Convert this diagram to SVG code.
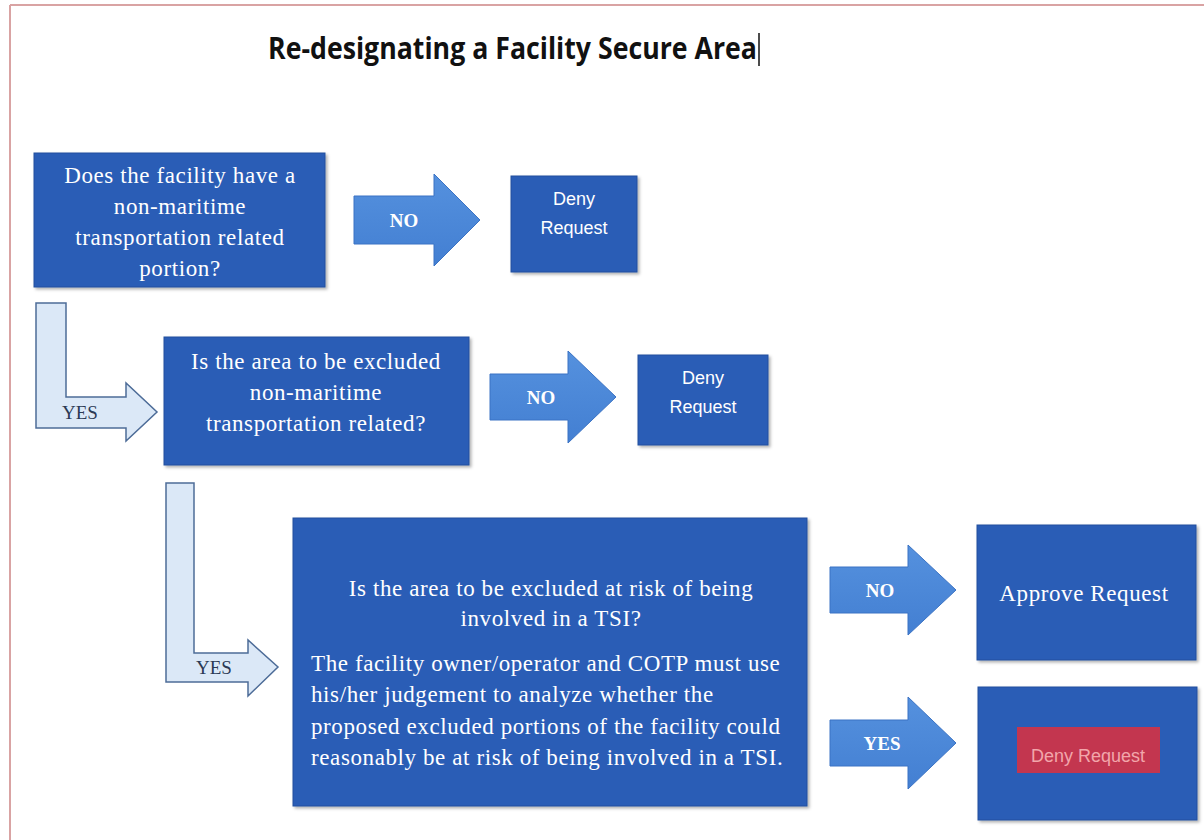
<svg xmlns="http://www.w3.org/2000/svg" width="1204" height="840" viewBox="0 0 1204 840">
  <defs>
    <filter id="shadow" x="-5%" y="-5%" width="115%" height="115%">
      <feDropShadow dx="2" dy="2" stdDeviation="1.5" flood-color="#000" flood-opacity="0.3"/>
    </filter>
    <linearGradient id="arrowFill" x1="0" y1="0" x2="0" y2="1">
      <stop offset="0" stop-color="#5591de"/>
      <stop offset="1" stop-color="#437fd2"/>
    </linearGradient>
    <style>
      .box { fill: #2a5db6; stroke: #234f9e; stroke-width: 1; filter: url(#shadow); }
      .q { font-family: "Liberation Serif", "DejaVu Serif", serif; font-size: 23px; letter-spacing: 0.6px; fill: #ffffff; }
      .c { text-anchor: middle; }
      .sans { font-family: "Liberation Sans", "DejaVu Sans", sans-serif; font-size: 18px; fill: #ffffff; text-anchor: middle; }
      .no { fill: url(#arrowFill); stroke: #3b73c4; stroke-width: 1; }
      .yes { fill: #dbe8f7; stroke: #4d6c98; stroke-width: 1.5; }
      .lbl { font-family: "Liberation Serif", "DejaVu Serif", serif; font-size: 19px; font-weight: bold; fill: #ffffff; text-anchor: middle; }
      .lblDark { font-family: "Liberation Serif", "DejaVu Serif", serif; font-size: 19px; fill: #2b3a55; text-anchor: middle; }
    </style>
  </defs>

  <!-- page -->
  <rect x="0" y="0" width="1204" height="840" fill="#ffffff"/>
  <line x1="10" y1="5" x2="1204" y2="5" stroke="#d9a3a3" stroke-width="2"/>
  <line x1="10" y1="5" x2="10" y2="840" stroke="#d9a3a3" stroke-width="2"/>

  <!-- title with text cursor -->
  <text x="268" y="59" font-family="Open Sans, Liberation Sans, sans-serif" font-size="30" font-weight="bold" fill="#111111" textLength="489" lengthAdjust="spacingAndGlyphs">Re-designating a Facility Secure Area</text>
  <line x1="759" y1="33" x2="759" y2="66" stroke="#111111" stroke-width="1.5"/>

  <!-- connectors -->
  <g id="connectors">
    <g id="no1">
      <path class="no" d="M354,196 H434 V174 L480,220 L434,266 V244 H354 Z"/>
      <text class="lbl" x="404" y="227">NO</text>
    </g>
    <g id="yes1">
      <path class="yes" d="M36,303 H66 V397 H126 V383 L157,412 L126,441 V428 H36 Z"/>
      <text class="lblDark" x="80" y="419">YES</text>
    </g>
    <g id="no2">
      <path class="no" d="M490,374 H568 V351 L616,397 L568,443 V420 H490 Z"/>
      <text class="lbl" x="541" y="404">NO</text>
    </g>
    <g id="yes2">
      <path class="yes" d="M166,483 H194 V653 H248 V640 L278,667 L248,696 V682 H166 Z"/>
      <text class="lblDark" x="214" y="674">YES</text>
    </g>
    <g id="no3">
      <path class="no" d="M830,567 H908 V545 L956,590 L908,635 V613 H830 Z"/>
      <text class="lbl" x="880" y="597">NO</text>
    </g>
    <g id="yes3">
      <path class="no" d="M830,720 H908 V697 L956,743 L908,789 V766 H830 Z"/>
      <text class="lbl" x="882" y="750">YES</text>
    </g>
  </g>

  <!-- decision 1 -->
  <g id="q1">
    <rect class="box" x="34" y="153" width="291" height="134"/>
    <text class="q c" x="180" y="183">Does the facility have a</text>
    <text class="q c" x="180" y="214">non-maritime</text>
    <text class="q c" x="180" y="245">transportation related</text>
    <text class="q c" x="180" y="276">portion?</text>
  </g>

  <g id="deny1">
    <rect class="box" x="511" y="176" width="126" height="96"/>
    <text class="sans" x="574" y="205">Deny</text>
    <text class="sans" x="574" y="234">Request</text>
  </g>

  <!-- decision 2 -->
  <g id="q2">
    <rect class="box" x="164" y="337" width="305" height="128"/>
    <text class="q c" x="316" y="369">Is the area to be excluded</text>
    <text class="q c" x="316" y="400">non-maritime</text>
    <text class="q c" x="316" y="431">transportation related?</text>
  </g>

  <g id="deny2">
    <rect class="box" x="638" y="355" width="130" height="90"/>
    <text class="sans" x="703" y="384">Deny</text>
    <text class="sans" x="703" y="413">Request</text>
  </g>

  <!-- decision 3 -->
  <g id="q3">
    <rect class="box" x="293" y="518" width="514" height="288"/>
    <text class="q c" x="551" y="596">Is the area to be excluded at risk of being</text>
    <text class="q c" x="551" y="626">involved in a TSI?</text>
    <text class="q" x="311" y="671">The facility owner/operator and COTP must use</text>
    <text class="q" x="311" y="702">his/her judgement to analyze whether the</text>
    <text class="q" x="311" y="734">proposed excluded portions of the facility could</text>
    <text class="q" x="311" y="765">reasonably be at risk of being involved in a TSI.</text>
  </g>

  <g id="approve">
    <rect class="box" x="977" y="525" width="219" height="135"/>
    <text class="q c" x="1084" y="601">Approve Request</text>
  </g>

  <g id="deny3">
    <rect class="box" x="978" y="687" width="219" height="133"/>
    <rect x="1017" y="727" width="143" height="46" fill="#c3364f"/>
    <text class="sans" x="1088" y="762" style="fill:#f2a6ab">Deny Request</text>
  </g>
</svg>
